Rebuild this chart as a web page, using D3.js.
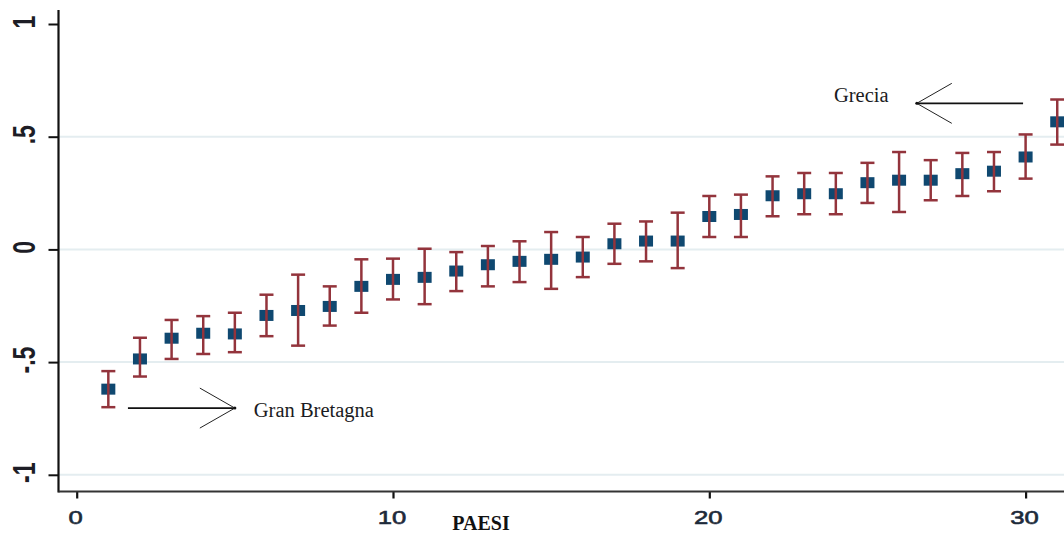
<!DOCTYPE html>
<html>
<head>
<meta charset="utf-8">
<script src="https://cdn.jsdelivr.net/npm/d3@7"></script>
<style>
  html, body { margin: 0; padding: 0; background: #fff; }
  svg { display: block; }
</style>
</head>
<body>
<svg id="chart" width="1064" height="536"></svg>
<script>
// Country index (ranked), point estimate and confidence interval bounds
const countries = d3.range(1, 32);
const estimates = [-0.62, -0.486, -0.394, -0.372, -0.375, -0.293, -0.271, -0.253, -0.164, -0.133,
  -0.124, -0.096, -0.068, -0.053, -0.044, -0.034, 0.025, 0.037, 0.037, 0.146,
  0.155, 0.238, 0.247, 0.247, 0.296, 0.307, 0.307, 0.336, 0.347, 0.41, 0.566];
const lower = [-0.70, -0.564, -0.486, -0.464, -0.456, -0.385, -0.427, -0.338, -0.281, -0.222,
  -0.243, -0.185, -0.164, -0.145, -0.175, -0.123, -0.064, -0.053, -0.083, 0.055,
  0.055, 0.147, 0.156, 0.156, 0.206, 0.166, 0.218, 0.237, 0.258, 0.314, 0.465];
const upper = [-0.54, -0.392, -0.313, -0.296, -0.281, -0.201, -0.112, -0.164, -0.044, -0.041,
  0.003, -0.012, 0.015, 0.036, 0.077, 0.055, 0.114, 0.124, 0.163, 0.237,
  0.243, 0.324, 0.339, 0.339, 0.384, 0.432, 0.396, 0.428, 0.432, 0.51, 0.665];

const xTicks = [0, 10, 20, 30];
const yTicks = [-1, -0.5, 0, 0.5, 1];
const yTickLabels = ["-1", "-.5", "0", ".5", "1"];
const yGrid = [-1, -0.5, 0, 0.5];

const annotations = [
  { label: "Gran Bretagna", from: [1.62, -0.704], to: [5.0, -0.704], text: [5.6, -0.745], dir: 1 },
  { label: "Grecia", from: [29.92, 0.648], to: [26.56, 0.648], text: [23.94, 0.654], dir: -1 }
];

const svg = d3.select("#chart");
const axisLeftX = 58.5, axisBottomY = 491.5, rightEdge = 1064;

const x = d3.scaleLinear().domain([0, 30]).range([76.7, 1025.6]);
const y = d3.scaleLinear().domain([-1, 1]).range([474.8, 24]);

// Horizontal grid lines
svg.append("g").selectAll("line").data(yGrid).join("line")
  .attr("x1", axisLeftX).attr("x2", rightEdge)
  .attr("y1", d => y(d)).attr("y2", d => y(d))
  .attr("stroke", "#e4edf0").attr("stroke-width", 2);

// Y axis
const yAxis = svg.append("g").attr("transform", `translate(${axisLeftX},0)`)
  .call(d3.axisLeft(y).tickValues(yTicks).tickSize(10).tickFormat(""));
yAxis.select(".domain").remove();
yAxis.selectAll(".tick line").attr("stroke", "#111").attr("stroke-width", 2);
svg.append("line").attr("x1", axisLeftX).attr("x2", axisLeftX)
  .attr("y1", 10).attr("y2", axisBottomY + 1)
  .attr("stroke", "#111").attr("stroke-width", 2.2);

svg.append("g").selectAll("text").data(yTicks).join("text")
  .attr("transform", (d) => `translate(35,${y(d) - 2}) scale(1.4,1) rotate(-90)`)
  .attr("text-anchor", "middle")
  .attr("font-family", "Liberation Sans, Arial, sans-serif")
  .attr("font-size", 23)
  .attr("font-weight", "bold")
  .attr("fill", "#1d1d26")
  .text((d, i) => yTickLabels[i]);

// X axis
const xAxis = svg.append("g").attr("transform", `translate(0,${axisBottomY})`)
  .call(d3.axisBottom(x).tickValues(xTicks).tickSize(7).tickFormat(""));
xAxis.select(".domain").remove();
xAxis.selectAll(".tick line").attr("stroke", "#111").attr("stroke-width", 2.2);
svg.append("line").attr("x1", axisLeftX).attr("x2", rightEdge)
  .attr("y1", axisBottomY).attr("y2", axisBottomY)
  .attr("stroke", "#333").attr("stroke-width", 2);

svg.append("g").selectAll("text").data(xTicks).join("text")
  .attr("transform", d => `translate(${x(d) - 1},524) scale(1.35,1)`)
  .attr("text-anchor", "middle")
  .attr("font-family", "Liberation Sans, Arial, sans-serif")
  .attr("font-size", 19)
  .attr("fill", "#1d2a3a")
  .attr("stroke", "#1d2a3a").attr("stroke-width", 0.6)
  .text(d => d);

svg.append("text")
  .attr("x", 481).attr("y", 530)
  .attr("text-anchor", "middle")
  .attr("font-family", "Liberation Serif, Times New Roman, serif")
  .attr("font-weight", "bold")
  .attr("font-size", 20)
  .attr("fill", "#111")
  .text("PAESI");

// Markers (drawn under the interval bars)
const rows = countries.map((c, i) => ({ c, est: estimates[i], lo: lower[i], hi: upper[i] }));
svg.append("g").selectAll("rect").data(rows).join("rect")
  .attr("x", d => x(d.c) - 7).attr("y", d => y(d.est) - 5.5)
  .attr("width", 14).attr("height", 11)
  .attr("fill", "#0f4870");

// Confidence interval bars with caps
const bars = svg.append("g").attr("stroke", "#93343c").attr("stroke-width", 2.5).attr("fill", "none");
bars.selectAll("line.v").data(rows).join("line").attr("class", "v")
  .attr("x1", d => x(d.c)).attr("x2", d => x(d.c))
  .attr("y1", d => y(d.hi)).attr("y2", d => y(d.lo));
bars.selectAll("line.t").data(rows).join("line").attr("class", "t")
  .attr("x1", d => x(d.c) - 7).attr("x2", d => x(d.c) + 7)
  .attr("y1", d => y(d.hi)).attr("y2", d => y(d.hi));
bars.selectAll("line.b").data(rows).join("line").attr("class", "b")
  .attr("x1", d => x(d.c) - 7).attr("x2", d => x(d.c) + 7)
  .attr("y1", d => y(d.lo)).attr("y2", d => y(d.lo));

// Annotation arrows and labels
const ann = svg.append("g");
annotations.forEach(a => {
  const x1 = x(a.from[0]), y1 = y(a.from[1]);
  const x2 = x(a.to[0]), y2 = y(a.to[1]);
  ann.append("line").attr("x1", x1).attr("y1", y1).attr("x2", x2).attr("y2", y2)
    .attr("stroke", "#111").attr("stroke-width", 1.6);
  [-1, 1].forEach(s => {
    ann.append("line").attr("x1", x2).attr("y1", y2)
      .attr("x2", x2 - a.dir * 35).attr("y2", y2 + s * 20)
      .attr("stroke", "#222").attr("stroke-width", 1);
  });
  ann.append("circle").attr("cx", x2).attr("cy", y2).attr("r", 1.5).attr("fill", "#111");
  ann.append("text").attr("x", x(a.text[0])).attr("y", y(a.text[1]))
    .attr("font-family", "Liberation Serif, Times New Roman, serif")
    .attr("font-size", 20.5)
    .attr("fill", "#1b1b22")
    .text(a.label);
});
</script>
</body>
</html>
